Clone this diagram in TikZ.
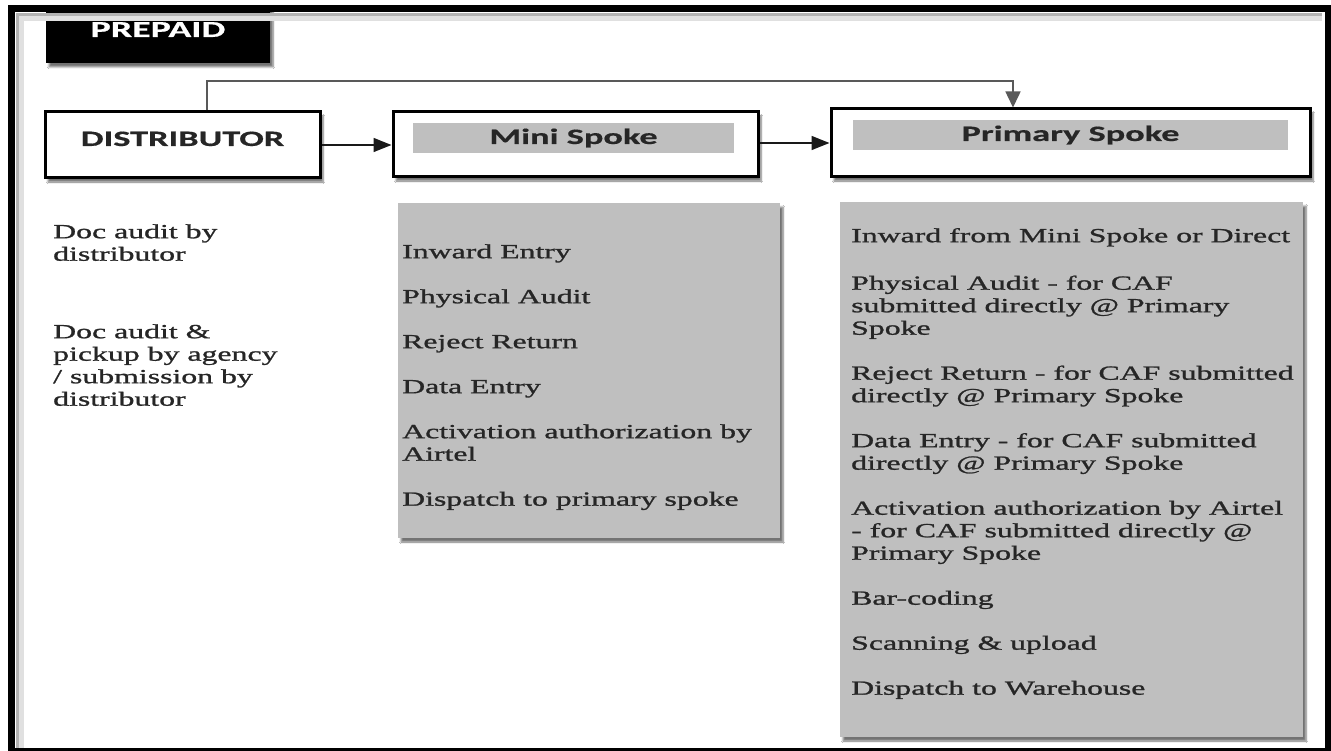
\documentclass[tikz,border=0pt]{standalone}
\usepackage{fontspec}
\setmainfont{Liberation Serif}
\newfontfamily\serifw[FakeStretch=1.59,FakeBold=1.2]{Liberation Serif}
\newfontfamily\sansw[FakeStretch=1.65,FakeBold=0.6]{Carlito}
\usetikzlibrary{arrows.meta,shadows.blur}
\definecolor{boxgray}{HTML}{BFBFBF}
\definecolor{txt}{HTML}{262626}
\begin{document}
\begin{tikzpicture}[x=1pt,y=-1pt,
  shad/.style={blur shadow={shadow xshift=3pt,shadow yshift=-4pt,shadow blur steps=6,shadow opacity=55}},
  hbox/.style={draw=black,line width=3pt,fill=white,inner sep=0pt,shad},
  headfont/.style={font=\sansw\bfseries\fontsize{22}{24}\selectfont,text=txt},
  bar/.style={fill=boxgray,inner sep=0pt,anchor=base,text height=21pt,text depth=9pt,headfont},
  listbox/.style={fill=boxgray,inner sep=0pt,shad},
  items/.style={anchor=north west,inner sep=0pt,align=left,text=txt,font=\serifw\fontsize{20}{22.5}\selectfont},
  conn/.style={line width=1.5pt,draw=black!90,-{Triangle[length=18pt,width=14pt]}},
  topconn/.style={line width=1.5pt,draw=black!65,-{Triangle[length=16pt,width=15pt]}}
]
\useasboundingbox (0,0) rectangle (1331,751);
\fill[white] (0,0) rectangle (1331,751);

% PREPAID tab
\node[fill=black,anchor=base,minimum width=224pt,text height=32pt,text depth=26pt,inner sep=0pt,
      text=white,font=\sansw\bfseries\fontsize{23}{25}\selectfont,shad] (prepaid) at (158,37) {PREPAID};

% outer frame with inner shading
\draw[black!12,line width=5pt] (21,751) -- (21,19) -- (1322,19);
\draw[black!30,line width=3pt] (17,751) -- (17,15) -- (1322,15);
\draw[black,line width=7pt] (11.5,8.5) rectangle (1328,751);

% header boxes
\node[hbox,anchor=base,minimum width=275pt,text height=34pt,text depth=32pt,headfont] (dist) at (182.5,146) {DISTRIBUTOR};
\node[hbox,minimum width=365pt,minimum height=65pt] (mini) at (575.5,144.5) {};
\node[bar,minimum width=321pt] (minilabel) at (573.5,144) {Mini Spoke};
\node[hbox,minimum width=479pt,minimum height=68pt] (primary) at (1070.5,143) {};
\node[bar,minimum width=435pt] (primarylabel) at (1070.5,141) {Primary Spoke};

% connectors
\draw[conn] (dist.east) -- (dist.east -| mini.west);
\draw[conn] (mini.east |- 0,143) -- (primary.west |- 0,143);
\coordinate (topline) at (600,81);
\draw[topconn] ([xshift=24.5pt]dist.north) |- (topline) -| ([xshift=-57.5pt]primary.north);

% distributor notes
\node[items] (distnote1) at (53,223) {\rule{0pt}{15pt}Doc audit by\\distributor};
\node[items] (distnote2) at (53,323) {\rule{0pt}{15pt}Doc audit \&\\pickup by agency\\/ submission by\\distributor};

% mini spoke list
\node[listbox,minimum width=382pt,minimum height=335pt] (minilist) at (589,370.5) {};
\node[items] (minitext) at (402,243) {\rule{0pt}{15pt}Inward Entry\\[22.5pt]
Physical Audit\\[22.5pt]
Reject Return\\[22.5pt]
Data Entry\\[22.5pt]
Activation authorization by\\Airtel\\[22.5pt]
Dispatch to primary spoke};

% primary spoke list
\node[listbox,minimum width=463pt,minimum height=535pt] (primarylist) at (1071.5,469.5) {};
\node[items] (primarytext) at (851,227) {\rule{0pt}{15pt}Inward from Mini Spoke or Direct\\[25pt]
Physical Audit - for CAF\\submitted directly @ Primary\\Spoke\\[22.5pt]
Reject Return - for CAF submitted\\directly @ Primary Spoke\\[22.5pt]
Data Entry - for CAF submitted\\directly @ Primary Spoke\\[22.5pt]
Activation authorization by Airtel\\- for CAF submitted directly @\\Primary Spoke\\[22.5pt]
Bar-coding\\[22.5pt]
Scanning \& upload\\[22.5pt]
Dispatch to Warehouse};
\end{tikzpicture}
\end{document}
